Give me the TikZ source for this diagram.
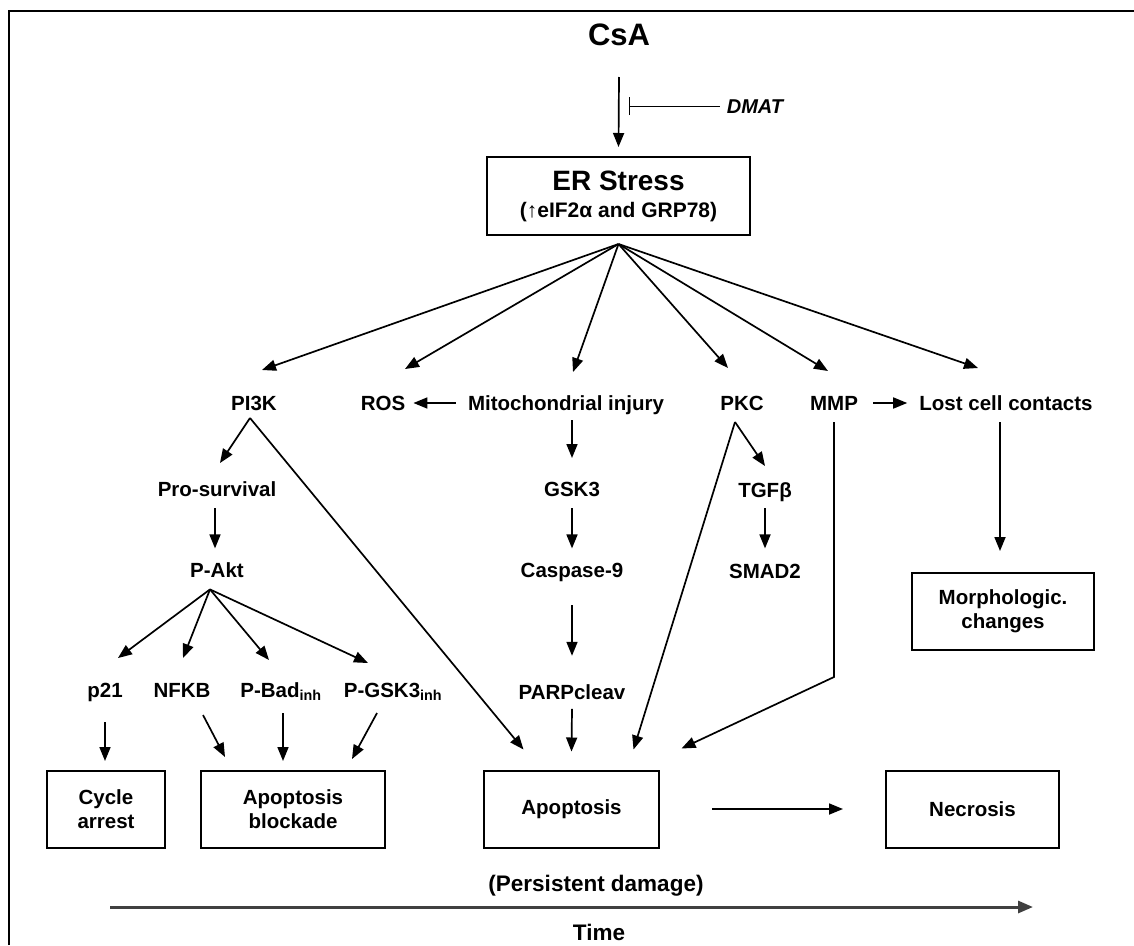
\documentclass[tikz,border=0pt]{standalone}
\usepackage{fontspec}
\setmainfont{Liberation Sans}
\usetikzlibrary{arrows.meta,positioning}
\tikzset{
	etiqueta/.style={font=\bfseries\fontsize{20.5}{24}\selectfont, inner sep=0pt,
		text height=14pt, text depth=0pt},
	caja/.style={draw, line width=2pt, align=center, inner sep=0pt,
		font=\bfseries\fontsize{20.5}{24}\selectfont, minimum height=77pt},
	flecha/.style={line width=1.7pt, -{Triangle[length=14pt,width=11pt]}},
	marco/.style={line width=2.8pt},
	eje/.style={line width=3pt, black!75, -{Triangle[length=15pt,width=12pt]}}
}

\begin{document}
\begin{tikzpicture}[x=1pt, y=-1pt, node distance=67pt]
	\useasboundingbox (0,0) rectangle (1134,945);
	\draw[marco] (9,945) -- (9,11) -- (1134,11);

	\node[etiqueta, font=\bfseries\fontsize{31}{36}\selectfont, text height=22pt] (csa) at (619,34) {CsA};
	\node[etiqueta, font=\bfseries\itshape\fontsize{20}{24}\selectfont] (dmat) at (755,106) {DMAT};
	\coordinate (bloqueo) at (629,106);
	\node[caja, minimum width=263pt, minimum height=78pt] (er) at (618.5,196)
		{{\fontsize{28}{30}\selectfont ER Stress}\\[3pt]{\fontsize{21}{25}\selectfont (↑eIF2α and GRP78)}};

	\node[etiqueta] (pi3k) at (254,403) {PI3K};
	\node[etiqueta] (ros) at (383,403) {ROS};
	\node[etiqueta] (mito) at (566,403) {Mitochondrial injury};
	\node[etiqueta] (pkc) at (742,403) {PKC};
	\node[etiqueta] (mmp) at (834,403) {MMP};
	\node[etiqueta] (lost) at (1006,403) {Lost cell contacts};

	\node[etiqueta] (prosurv) at (217,489) {Pro-survival};
	\node[etiqueta, below=of prosurv] (pakt) {P-Akt};
	\node[etiqueta] (gsk3) at (572,489) {GSK3};
	\node[etiqueta, below=of gsk3] (casp) {Caspase-9};
	\node[etiqueta, below=108pt of casp] (parp) {PARPcleav};
	\node[etiqueta] (tgfb) at (765,490) {TGFβ};
	\node[etiqueta, below=of tgfb] (smad2) {SMAD2};

	\node[etiqueta] (p21) at (105,690) {p21};
	\node[etiqueta] (nfkb) at (182,690) {NFKB};
	\node[etiqueta] (pbad) at (281,690) {P-Bad\textsubscript{inh}};
	\node[etiqueta] (pgsk3) at (393,690) {P-GSK3\textsubscript{inh}};

	\node[caja, minimum width=118pt] (cycle) at (106,809.5) {Cycle\\arrest};
	\node[caja, minimum width=184pt] (bloq) at (293,809.5) {Apoptosis\\blockade};
	\node[caja, minimum width=175pt] (apop) at (571.5,809) {Apoptosis};
	\node[caja, minimum width=173pt] (necro) at (972.5,809) {Necrosis};
	\node[caja, minimum width=182pt] (morph) at (1003,611.5) {Morphologic.\\changes};

	\node[etiqueta, font=\bfseries\fontsize{22.5}{26}\selectfont, text height=16pt] (dano) at (596,883) {(Persistent damage)};
	\node[etiqueta, font=\bfseries\fontsize{22.5}{26}\selectfont, text height=16pt] (tiempo) at (599,932) {Time};
	\coordinate (t0) at (110,907);
	\coordinate (t1) at (1033,907);

	\draw[flecha] ([yshift=-43pt]csa.center) -- ([yshift=9pt]er.north);
	\draw[line width=1pt, -{Bar[width=18pt,line width=1.2pt]}] ([xshift=-7pt]dmat.west) -- (bloqueo);

	\draw[flecha] ([yshift=-8pt]er.south) -- ([xshift=8pt,yshift=33pt]pi3k.center);
	\draw[flecha] ([yshift=-8pt]er.south) -- ([xshift=22pt,yshift=34pt]ros.center);
	\draw[flecha] ([yshift=-8pt]er.south) -- ([xshift=7pt,yshift=31pt]mito.center);
	\draw[flecha] ([yshift=-8pt]er.south) -- ([xshift=-14pt,yshift=35pt]pkc.center);
	\draw[flecha] ([yshift=-8pt]er.south) -- ([xshift=-6pt,yshift=32pt]mmp.center);
	\draw[flecha] ([yshift=-8pt]er.south) -- ([xshift=-28pt,yshift=35pt]lost.center);

	\draw[flecha] ([xshift=-12pt]mito.west) -- ([xshift=8pt]ros.east);
	\draw[flecha] ([xshift=15pt]mmp.east) -- ([xshift=-12pt]lost.west);

	\draw[flecha] ([xshift=-4pt,yshift=-15pt]pi3k.center) -- ([xshift=3pt,yshift=26pt]prosurv.center);
	\draw[flecha] ([xshift=-4pt,yshift=-15pt]pi3k.center) -- ([xshift=-48pt,yshift=20pt]apop.north);
	\draw[flecha] ([xshift=-2pt,yshift=-19pt]prosurv.center) -- ([xshift=-2pt,yshift=22pt]pakt.center);
	\draw[flecha] ([xshift=-7pt,yshift=-19pt]pakt.center) -- ([xshift=13pt,yshift=32pt]p21.center);
	\draw[flecha] ([xshift=-7pt,yshift=-19pt]pakt.center) -- ([xshift=1pt,yshift=32pt]nfkb.center);
	\draw[flecha] ([xshift=-7pt,yshift=-19pt]pakt.center) -- ([xshift=-12pt,yshift=30pt]pbad.center);
	\draw[flecha] ([xshift=-7pt,yshift=-19pt]pakt.center) -- ([xshift=-25pt,yshift=27pt]pgsk3.center);

	\draw[flecha] ([xshift=6pt,yshift=-17pt]mito.center) -- ([yshift=31pt]gsk3.center);
	\draw[flecha] ([yshift=-19pt]gsk3.center) -- ([yshift=22pt]casp.center);
	\draw[flecha] ([yshift=-35pt]casp.center) -- ([yshift=37pt]parp.center);
	\draw[flecha] ([yshift=-16pt]parp.center) -- ([yshift=18pt]apop.north);

	\draw[flecha] ([xshift=-7pt,yshift=-19pt]pkc.center) -- ([yshift=24pt]tgfb.center);
	\draw[flecha] ([xshift=-7pt,yshift=-19pt]pkc.center) -- ([xshift=62pt,yshift=20pt]apop.north);
	\draw[flecha] ([yshift=-18pt]tgfb.center) -- ([yshift=23pt]smad2.center);
	\draw[flecha] ([yshift=-19pt]mmp.center) -- ([yshift=-274pt]mmp.center) -- ([xshift=110pt,yshift=21pt]apop.north);
	\draw[flecha] ([xshift=-6pt,yshift=-19pt]lost.center) -- ([xshift=-3pt,yshift=21pt]morph.north);

	\draw[flecha] ([yshift=-32pt]p21.center) -- ([xshift=-1pt,yshift=9pt]cycle.north);
	\draw[flecha] ([xshift=21pt,yshift=-25pt]nfkb.center) -- ([xshift=-68pt,yshift=13pt]bloq.north);
	\draw[flecha] ([xshift=2pt,yshift=-23pt]pbad.center) -- ([xshift=-10pt,yshift=9pt]bloq.north);
	\draw[flecha] ([xshift=-16pt,yshift=-23pt]pgsk3.center) -- ([xshift=59pt,yshift=11pt]bloq.north);
	\draw[flecha] ([xshift=52pt]apop.east) -- ([xshift=-42pt]necro.west);

	\draw[eje] (t0) -- (t1);
\end{tikzpicture}
\end{document}
